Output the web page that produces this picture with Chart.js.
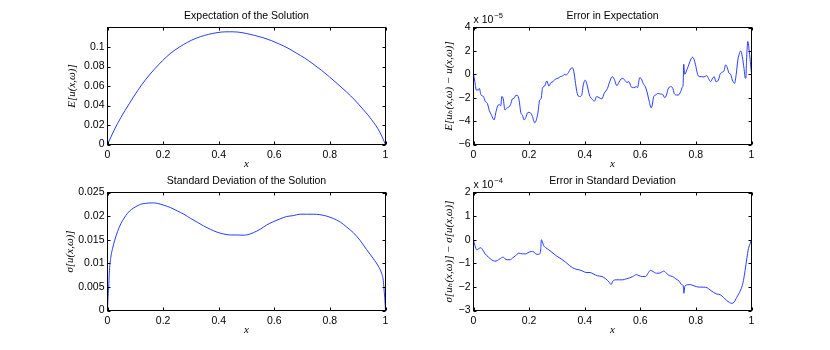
<!DOCTYPE html>
<html>
<head>
    <meta charset="utf-8">
    <title>Expectation and Standard Deviation of the Solution</title>
    <style>
        body { margin: 0; background: #fff; }
        #figure { position: relative; width: 830px; height: 350px; }
        #figure canvas { position: absolute; }
    </style>
    <script src="https://cdn.jsdelivr.net/npm/chart.js@4.4.1/dist/chart.umd.min.js"></script>
</head>
<body>
    <div id="figure">
        <canvas id="meanChart"></canvas>
        <canvas id="meanErrChart"></canvas>
        <canvas id="stdChart"></canvas>
        <canvas id="stdErrChart"></canvas>
    </div>

    <script>
        // --- data ---
        const xTicks = [0, 0.2, 0.4, 0.6, 0.8, 1];

        // E[u(x,w)]
        const meanX = [0, 0.024, 0.048, 0.078, 0.108, 0.138, 0.168, 0.198, 0.228, 0.258,
            0.288, 0.318, 0.349, 0.379, 0.409, 0.439, 0.469, 0.499, 0.529, 0.559,
            0.589, 0.619, 0.649, 0.679, 0.709, 0.739, 0.769, 0.799, 0.829, 0.859,
            0.889, 0.919, 0.95, 0.98, 1];
        const meanY = [0, 0.0148, 0.0276, 0.0417, 0.0551, 0.0669, 0.077, 0.086, 0.0938, 0.0998,
            0.1049, 0.1089, 0.1119, 0.1139, 0.1153, 0.1156, 0.1153, 0.1139, 0.1119, 0.1096,
            0.1066, 0.1029, 0.0988, 0.0938, 0.0887, 0.0827, 0.0763, 0.0692, 0.0618, 0.0541,
            0.0457, 0.0362, 0.0255, 0.0125, 0];
        const meanTicks = [0, 0.02, 0.04, 0.06, 0.08, 0.1];

        // error in expectation, units of 1e-5
        const meanErrX = [0, 0.005, 0.01, 0.018, 0.021, 0.027, 0.036, 0.042, 0.05, 0.057,
            0.065, 0.074, 0.081, 0.087, 0.093, 0.098, 0.102, 0.107, 0.113, 0.119,
            0.127, 0.133, 0.14, 0.146, 0.152, 0.158, 0.164, 0.17, 0.176, 0.182,
            0.188, 0.196, 0.205, 0.212, 0.22, 0.226, 0.232, 0.238, 0.243, 0.248,
            0.256, 0.264, 0.271, 0.279, 0.286, 0.295, 0.304, 0.312, 0.321, 0.327,
            0.333, 0.342, 0.349, 0.355, 0.361, 0.367, 0.373, 0.381, 0.389, 0.395,
            0.402, 0.408, 0.417, 0.426, 0.435, 0.443, 0.452, 0.462, 0.47, 0.482,
            0.49, 0.499, 0.506, 0.516, 0.523, 0.531, 0.537, 0.545, 0.552, 0.559,
            0.567, 0.576, 0.586, 0.59, 0.598, 0.604, 0.61, 0.618, 0.624, 0.631,
            0.639, 0.643, 0.648, 0.655, 0.664, 0.672, 0.68, 0.688, 0.694, 0.7,
            0.708, 0.716, 0.722, 0.73, 0.737, 0.745, 0.752, 0.754, 0.756, 0.76,
            0.766, 0.772, 0.781, 0.788, 0.794, 0.8, 0.806, 0.812, 0.82, 0.829,
            0.839, 0.845, 0.853, 0.86, 0.866, 0.872, 0.881, 0.887, 0.894, 0.901,
            0.907, 0.913, 0.919, 0.925, 0.931, 0.939, 0.945, 0.951, 0.957, 0.961,
            0.967, 0.973, 0.978, 0.98, 0.982, 0.987, 0.992, 0.997, 1.0];
        const meanErrY = [0, -0.63, -1.34, -1.34, -1.2, -1.77, -1.9, -2.3, -2.5, -3.1,
            -3.5, -3.9, -3.2, -2.7, -2.6, -2.7, -1.9, -2.1, -3.05, -2.9,
            -2.8, -2.6, -2.1, -2.05, -1.8, -1.8, -2.2, -3.25, -3.5, -3.9,
            -3.7, -3.25, -3.3, -3.6, -4.15, -3.9, -3.25, -2.2, -2.1, -1.2,
            -1.0, -0.57, -1.0, -0.7, -0.63, -0.4, -0.34, -0.2, -0.14, 0,
            -0.06, 0.17, 0.46, 0.57, 0.23, -0.77, -1.63, -1.9, -1.8, -0.9,
            -0.5, -0.86, -1.77, -2.1, -2.3, -1.9, -2.0, -2.1, -1.63, -1.2,
            -0.63, -0.2, -0.4, -0.97, -0.69, -0.4, -0.34, -0.54, -0.69, -0.63,
            -1.06, -1.14, -1.06, -1.14, -0.29, -0.4, -0.77, -1.06, -1.49, -2.2,
            -2.86, -2.63, -1.91, -1.77, -1.63, -1.69, -1.71, -2.0, -1.77, -1.26,
            -1.06, -1.14, -1.63, -1.77, -1.77, -1.49, -1.06, -0.91, 0.86, 0,
            0.29, 0.66, 1.23, 1.46, 1.23, 0.66, 0, -0.2, -0.2, -0.23,
            -0.11, -0.34, -0.63, -0.34, -0.2, -0.63, -0.49, 0, 0.17, 0.29,
            0.8, 0.57, 0.09, 0, -0.49, -0.77, 0, 1.23, 1.8, 2.0,
            1.51, 0.51, -0.34, -0.29, 1.09, 2.8, 1.94, 0.8, 0.09];
        const meanErrTicks = [-6, -4, -2, 0, 2, 4];

        // sigma[u(x,w)]
        const stdX = [0, 0.002, 0.005, 0.007, 0.012, 0.018, 0.026, 0.036, 0.048, 0.06,
            0.072, 0.086, 0.102, 0.119, 0.137, 0.161, 0.179, 0.203, 0.227, 0.251,
            0.275, 0.299, 0.323, 0.346, 0.37, 0.394, 0.418, 0.442, 0.466, 0.484,
            0.5, 0.525, 0.549, 0.572, 0.596, 0.62, 0.644, 0.668, 0.692, 0.716,
            0.74, 0.764, 0.788, 0.812, 0.836, 0.86, 0.884, 0.908, 0.932, 0.956,
            0.974, 0.986, 0.992, 0.995, 0.998, 1];
        const stdY = [0, 0.0028, 0.0057, 0.0085, 0.0113, 0.0131, 0.0149, 0.0167, 0.0184, 0.0196,
            0.0206, 0.0214, 0.022, 0.0225, 0.0227, 0.0228, 0.0227, 0.0223, 0.0218, 0.0211,
            0.0204, 0.0195, 0.0187, 0.0179, 0.0172, 0.0166, 0.0162, 0.016, 0.016, 0.01596,
            0.016, 0.0165, 0.0172, 0.0181, 0.0188, 0.0194, 0.0199, 0.0201, 0.0204, 0.0204,
            0.0204, 0.0203, 0.02, 0.0195, 0.0188, 0.0177, 0.0165, 0.0149, 0.0129, 0.011,
            0.0094, 0.0079, 0.0064, 0.0043, 0.0021, 0];
        const stdTicks = [0, 0.005, 0.01, 0.015, 0.02, 0.025];

        // error in standard deviation, units of 1e-4
        const stdErrX = [0, 0.005, 0.012, 0.019, 0.026, 0.033, 0.042, 0.054, 0.065, 0.077,
            0.086, 0.095, 0.107, 0.113, 0.121, 0.131, 0.14, 0.152, 0.164, 0.176,
            0.188, 0.196, 0.208, 0.217, 0.224, 0.232, 0.238, 0.242, 0.244, 0.248,
            0.252, 0.26, 0.271, 0.286, 0.3, 0.315, 0.331, 0.345, 0.357, 0.369,
            0.381, 0.393, 0.405, 0.419, 0.431, 0.446, 0.462, 0.476, 0.488, 0.495,
            0.501, 0.513, 0.525, 0.537, 0.549, 0.561, 0.573, 0.586, 0.595, 0.607,
            0.619, 0.628, 0.636, 0.646, 0.658, 0.667, 0.676, 0.684, 0.694, 0.704,
            0.716, 0.728, 0.74, 0.748, 0.754, 0.757, 0.76, 0.769, 0.778, 0.79,
            0.802, 0.814, 0.829, 0.841, 0.851, 0.863, 0.875, 0.887, 0.899, 0.911,
            0.92, 0.929, 0.937, 0.947, 0.957, 0.965, 0.971, 0.977, 0.983, 0.989,
            0.995, 1.0];
        const stdErrY = [0, -0.24, -0.43, -0.38, -0.34, -0.43, -0.6, -0.74, -0.85, -0.91,
            -0.88, -0.81, -0.74, -0.81, -0.85, -0.85, -0.78, -0.67, -0.57, -0.6,
            -0.6, -0.55, -0.5, -0.52, -0.6, -0.62, -0.6, -0.38, 0, -0.1,
            -0.24, -0.34, -0.43, -0.57, -0.7, -0.81, -0.95, -1.09, -1.19, -1.25,
            -1.28, -1.33, -1.39, -1.39, -1.45, -1.53, -1.56, -1.66, -1.8, -1.9,
            -1.76, -1.7, -1.7, -1.7, -1.66, -1.62, -1.56, -1.48, -1.52, -1.56,
            -1.56, -1.42, -1.3, -1.35, -1.42, -1.42, -1.38, -1.33, -1.42, -1.52,
            -1.56, -1.66, -1.76, -1.9, -1.94, -2.27, -1.99, -1.91, -1.9, -1.94,
            -1.99, -2.01, -2.01, -2.04, -2.13, -2.23, -2.3, -2.33, -2.44, -2.58,
            -2.65, -2.7, -2.65, -2.44, -2.23, -2.01, -1.73, -1.3, -0.81, -0.38,
            -0.17, 0];
        const stdErrTicks = [-3, -2, -1, 0, 1, 2];

        // --- look ---
        const TICK_SIZE = 10.5;
        const LABEL_FONT = { family: '"Liberation Serif", "DejaVu Serif", serif', style: 'italic', size: 11 };
        const LINE_COLOR = 'rgb(40, 60, 255)';

        Chart.defaults.font.family = '"Liberation Sans", Arial, sans-serif';
        Chart.defaults.font.size = TICK_SIZE;
        Chart.defaults.color = '#000';

        function fmt(v) {
            const s = String(+v.toFixed(6));
            return v < 0 ? '\u2212' + s.slice(1) : s;
        }

        // MATLAB-style box, inward ticks on all four sides, and the "x 10^n" note
        const boxPlugin = {
            id: 'matlabBox',
            afterDraw(chart, args, opts) {
                const { ctx, chartArea: a, scales: { x, y } } = chart;
                const len = 3;
                ctx.save();
                ctx.strokeStyle = '#000';
                ctx.lineWidth = 1;
                ctx.beginPath();
                x.ticks.forEach(t => {
                    const px = Math.round(x.getPixelForValue(t.value)) + 0.5;
                    ctx.moveTo(px, a.bottom); ctx.lineTo(px, a.bottom - len);
                    ctx.moveTo(px, a.top); ctx.lineTo(px, a.top + len);
                });
                y.ticks.forEach(t => {
                    const py = Math.round(y.getPixelForValue(t.value)) + 0.5;
                    ctx.moveTo(a.left, py); ctx.lineTo(a.left + len, py);
                    ctx.moveTo(a.right, py); ctx.lineTo(a.right - len, py);
                });
                ctx.stroke();
                ctx.strokeRect(a.left, a.top, a.right - a.left, a.bottom - a.top);

                if (opts.exponent != null) {
                    ctx.fillStyle = '#000';
                    ctx.textBaseline = 'alphabetic';
                    ctx.textAlign = 'left';
                    ctx.font = TICK_SIZE + 'px "Liberation Sans", Arial, sans-serif';
                    const base = 'x 10';
                    ctx.fillText(base, a.left, a.top - 4.5);
                    const w = ctx.measureText(base).width;
                    ctx.font = '7.5px "Liberation Sans", Arial, sans-serif';
                    ctx.fillText(fmt(opts.exponent), a.left + w + 1, a.top - 9.5);
                }
                ctx.restore();
            }
        };

        function makePanel(id, p) {
            const a = p.area; // left, top, right, bottom of the axes box on the page
            const c = {
                left: Math.floor(a[0]) - 70, top: Math.floor(a[1]) - 27,
                right: Math.ceil(a[2]) + 14, bottom: Math.ceil(a[3]) + 32
            };
            const cv = document.getElementById(id);
            cv.width = c.right - c.left;
            cv.height = c.bottom - c.top;
            cv.style.left = c.left + 'px';
            cv.style.top = c.top + 'px';

            const lhT = 1.2 * TICK_SIZE;
            const lhL = 1.2 * LABEL_FONT.size;
            const topSpace = a[1] - c.top;
            const titleTop = topSpace - 11.7 - lhT / 2;
            const yW = a[0] - c.left;
            const xH = c.bottom - a[3];

            return new Chart(cv, {
                type: 'line',
                data: {
                    datasets: [{
                        data: p.xs.map((x, i) => ({ x: x, y: p.ys[i] })),
                        borderColor: LINE_COLOR,
                        borderWidth: 1,
                        pointRadius: 0,
                        cubicInterpolationMode: 'monotone'
                    }]
                },
                options: {
                    responsive: false,
                    animation: false,
                    events: [],
                    layout: { padding: { left: 0, top: 0, right: c.right - a[2], bottom: 0 } },
                    plugins: {
                        legend: { display: false },
                        tooltip: { enabled: false },
                        title: {
                            display: true,
                            text: p.title,
                            fullSize: false,
                            color: '#000',
                            font: { size: TICK_SIZE, weight: 'normal' },
                            padding: { top: titleTop, bottom: topSpace - titleTop - lhT }
                        },
                        matlabBox: { exponent: p.exponent }
                    },
                    scales: {
                        x: {
                            type: 'linear', min: 0, max: 1,
                            grid: { display: false, drawTicks: false },
                            border: { display: false },
                            afterBuildTicks: s => { s.ticks = xTicks.map(v => ({ value: v })); },
                            afterFit: s => { s.height = xH; },
                            ticks: { padding: 4, maxRotation: 0, autoSkip: false, callback: fmt },
                            title: {
                                display: true, text: 'x', color: '#000', font: LABEL_FONT,
                                padding: { top: 0, bottom: xH - 19.5 - lhL / 2 }
                            }
                        },
                        y: {
                            type: 'linear', min: p.yMin, max: p.yMax,
                            grid: { display: false, drawTicks: false },
                            border: { display: false },
                            afterBuildTicks: s => { s.ticks = p.yTicks.map(v => ({ value: v })); },
                            afterFit: s => { s.width = yW; },
                            ticks: { padding: 3, autoSkip: false, callback: fmt },
                            title: {
                                display: true, text: p.yLabel, color: '#000', font: LABEL_FONT,
                                padding: { top: yW - p.yLabelGap - lhL / 2, bottom: 0 }
                            }
                        }
                    }
                },
                plugins: [boxPlugin]
            });
        }

        makePanel('meanChart', {
            area: [107.5, 27.5, 385.5, 144.5],
            title: 'Expectation of the Solution',
            xs: meanX, ys: meanY, yMin: 0, yMax: 0.12, yTicks: meanTicks,
            yLabel: 'E[u(x,\u03c9)]', yLabelGap: 35
        });
        makePanel('meanErrChart', {
            area: [473.5, 27.5, 751.5, 144.5],
            title: 'Error in Expectation',
            xs: meanErrX, ys: meanErrY, yMin: -6, yMax: 4, yTicks: meanErrTicks,
            yLabel: 'E[u\u2095(x,\u03c9) \u2212 u(x,\u03c9)]', yLabelGap: 24, exponent: -5
        });
        makePanel('stdChart', {
            area: [107.5, 192.5, 385.5, 310.5],
            title: 'Standard Deviation of the Solution',
            xs: stdX, ys: stdY, yMin: 0, yMax: 0.025, yTicks: stdTicks,
            yLabel: '\u03c3[u(x,\u03c9)]', yLabelGap: 37.5
        });
        makePanel('stdErrChart', {
            area: [473.5, 192.5, 751.5, 310.5],
            title: 'Error in Standard Deviation',
            xs: stdErrX, ys: stdErrY, yMin: -3, yMax: 2, yTicks: stdErrTicks,
            yLabel: '\u03c3[u\u2095(x,\u03c9)] \u2212 \u03c3[u(x,\u03c9)]', yLabelGap: 24.5, exponent: -4
        });
    </script>
</body>
</html>
